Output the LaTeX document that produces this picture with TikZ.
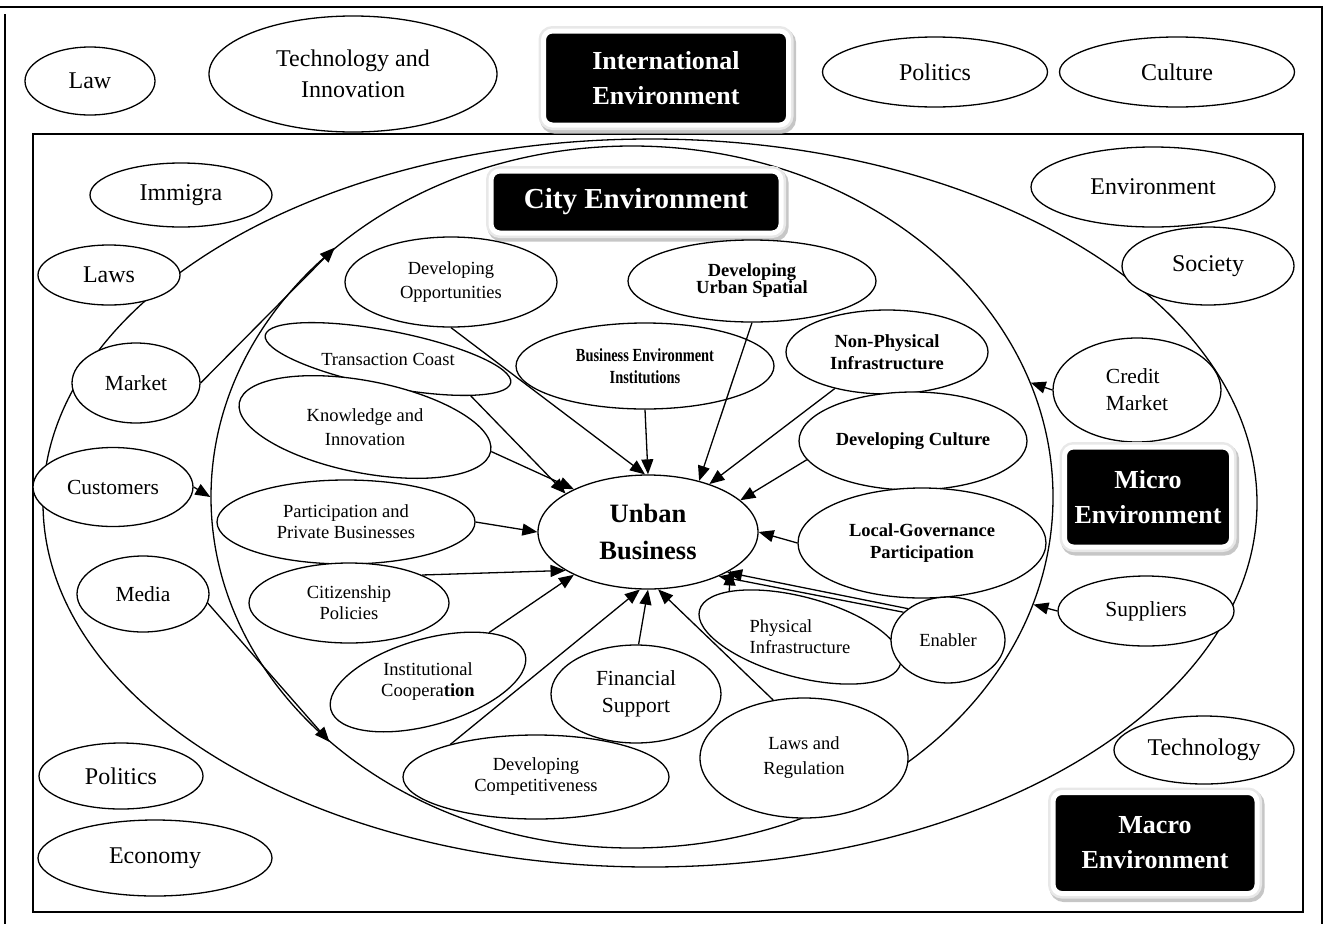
\documentclass[tikz,border=0pt]{standalone}
\usepackage{fontspec}
\setmainfont{Liberation Serif}
\newfontfamily\condserif[FakeStretch=0.78]{Liberation Serif}
\usetikzlibrary{shapes.geometric,arrows.meta}

\begin{document}
\begin{tikzpicture}[x=1pt,y=-1pt,>={Triangle[length=15pt,width=12pt]},line width=1.3pt,
  ell/.style={ellipse,draw,fill=white,inner sep=0pt,align=center},
  lbig/.style={font=\fontsize{24}{31}\selectfont},
  lmid/.style={font=\fontsize{21.5}{27}\selectfont},
  lsm/.style={font=\fontsize{18.5}{21}\selectfont},
  lbf/.style={font=\bfseries\fontsize{18.5}{22}\selectfont},
  blk/.style={rectangle,rounded corners=9pt,fill=black,text=white,draw=white,line width=5pt,
    inner sep=0pt,align=center,font=\bfseries\fontsize{26}{35}\selectfont,
    preaction={draw=gray!45,line width=11pt,transform canvas={shift={(2pt,-3pt)}}},
    preaction={draw=gray!18,line width=10pt}}]
		\useasboundingbox (0,0) rectangle (1330,924);
		\draw[line width=1.8pt] (0,7) -- (1322,7) -- (1322,924);
		\draw[line width=1.8pt] (5,14) -- (5,924);
		\draw[line width=1.8pt] (33,134) rectangle (1303,912);
		
		\node[ellipse,draw,inner sep=0pt,minimum width=1214,minimum height=728] (mac) at (650,503) {};
		\node[ellipse,draw,inner sep=0pt,minimum width=842,minimum height=702] (cty) at (632,497) {};
		
		\node[ell,lbig,minimum width=130,minimum height=68] (law) at (90,81) {Law};
		\node[ell,lbig,minimum width=288,minimum height=116] (techin) at (353,74) {Technology and\\Innovation};
		\node[blk,minimum width=245,minimum height=94] (intl) at (666,78) {International\\Environment};
		\node[ell,lbig,minimum width=225,minimum height=70] (polt) at (935,72) {Politics};
		\node[ell,lbig,minimum width=235,minimum height=70] (cult) at (1177,72) {Culture};
		
		\node[ell,lbig,minimum width=182,minimum height=64] (immig) at (181,195) {Immigra};
		\node[ell,lbig,minimum width=142,minimum height=60] (laws) at (109,275) {Laws};
		\node[ell,lmid,minimum width=128,minimum height=80] (market) at (136,383) {Market};
		\node[ell,lmid,minimum width=160,minimum height=79] (cust) at (113,487) {Customers};
		\node[ell,lmid,minimum width=132,minimum height=76] (media) at (143,594) {Media};
		\node[ell,lbig,minimum width=164,minimum height=66] (polb) at (121,776) {Politics};
		\node[ell,lbig,minimum width=234,minimum height=76] (econ) at (155,858) {Economy};
		
		\node[ell,lbig,minimum width=244,minimum height=80] (envr) at (1153,187) {Environment};
		\node[ell,lbig,minimum width=172,minimum height=78] (soc) at (1208,266) {Society};
		\node[ell,lmid,align=left,minimum width=168,minimum height=104] (credit) at (1137,390) {Credit\\Market};
		\node[blk,minimum width=167,minimum height=100] (micro) at (1148,497) {Micro\\Environment};
		\node[ell,lmid,minimum width=176,minimum height=70] (supp) at (1146,611) {Suppliers};
		\node[ell,lbig,minimum width=180,minimum height=68] (techn) at (1204,750) {Technology};
		\node[blk,minimum width=204,minimum height=101] (macro) at (1155,843) {Macro\\Environment};
		\node[blk,minimum width=290,minimum height=62,font=\bfseries\fontsize{29}{34}\selectfont] (city) at (636,202) {City Environment};
		
		\node[ell,lsm,minimum width=212,minimum height=90] (devop) at (451,282) {Developing\\[3pt]Opportunities};
		\node[ell,minimum width=248,minimum height=82,font=\bfseries\fontsize{18.5}{17}\selectfont] (urban) at (752,281) {Developing\\Urban Spatial};
		\node[ell,minimum width=258,minimum height=86,font=\condserif\bfseries\fontsize{18.5}{22}\selectfont] (bei) at (645,366) {Business Environment\\Institutions};
		\node[ell,lbf,minimum width=202,minimum height=84] (nonph) at (887,352) {Non-Physical\\Infrastructure};
		\node[ell,lbf,minimum width=228,minimum height=98] (devcul) at (913,441) {Developing Culture};
		\node[ell,lbf,minimum width=248,minimum height=110] (localg) at (922,543) {Local-Governance\\Participation};
		\node[ell,minimum width=220,minimum height=114,font=\bfseries\fontsize{26.5}{37}\selectfont] (ub) at (648,532) {Unban\\Business};
		
		\node[ell,rotate=-11,minimum width=250,minimum height=56] (tc) at (388,359) {};
		\node[lsm] (tct) at (tc) {Transaction Coast};
		\node[ell,rotate=-11,minimum width=256,minimum height=92] (kn) at (365,427) {};
		\node[lsm,align=center] (knt) at (kn) {Knowledge and\\[3pt]Innovation};
		\node[ell,lsm,minimum width=258,minimum height=84] (part) at (346,522) {Participation and\\Private Businesses};
		\node[ell,lsm,minimum width=200,minimum height=80] (citz) at (349,603) {Citizenship\\Policies};
		\node[ell,rotate=16,minimum width=202,minimum height=86] (instc) at (428,682) {};
		\node[lsm,align=center] (instct) at (instc) {Institutional\\Coopera\textbf{tion}};
		\node[ell,lmid,minimum width=170,minimum height=98] (fin) at (636,694) {Financial\\Support};
		\node[ell,lsm,minimum width=266,minimum height=84] (devcomp) at (536,777) {Developing\\Competitiveness};
		\node[ell,lsm,minimum width=208,minimum height=120] (lawreg) at (804,758) {Laws and\\[4pt]Regulation};
		\node[ell,rotate=-15,minimum width=208,minimum height=80] (phys) at (800,637) {};
		\node[lsm,align=left] (physt) at (phys) {Physical\\Infrastructure};
		\node[ell,lsm,minimum width=114,minimum height=86] (enab) at (948,640) {Enabler};
		
		\path[->] (devop.270) edge (ub.93);
		\path[->] (bei.270) edge (ub.90);
		\path[->] (urban.270) edge (ub.45);
		\path[->] (nonph.215) edge (ub.38);
		\path[->] (devcul.190) edge (ub.19);
		\path[->] (localg.180) edge (ub.0);
		\path[->] (enab.142) edge (ub.333);
		\path[->] (enab.148) edge (ub.328);
		\path[->] (phys.162) edge (ub.335);
		\path[->] (lawreg.118) edge (ub.280);
		\path[->] (fin.87) edge (ub.270);
		\path[->] (devcomp.159) edge (ub.262);
		\path[->] (instc.23) edge (ub.210);
		\path[->] (citz.21) edge (ub.205);
		\path[->] (part.0) edge (ub.180);
		\path[->] (kn.0) edge (ub.150);
		\path[->] (tc.347) edge (ub.155);
		
		\path[->] (market.0) edge (cty.140);
		\path[->] (cust.0) edge (cty.180);
		\path[->] (media.352) edge (cty.219);
		\path[->] (credit.180) edge (cty.16);
		\path[->] (supp.180) edge (cty.345);
\end{tikzpicture}
\end{document}
